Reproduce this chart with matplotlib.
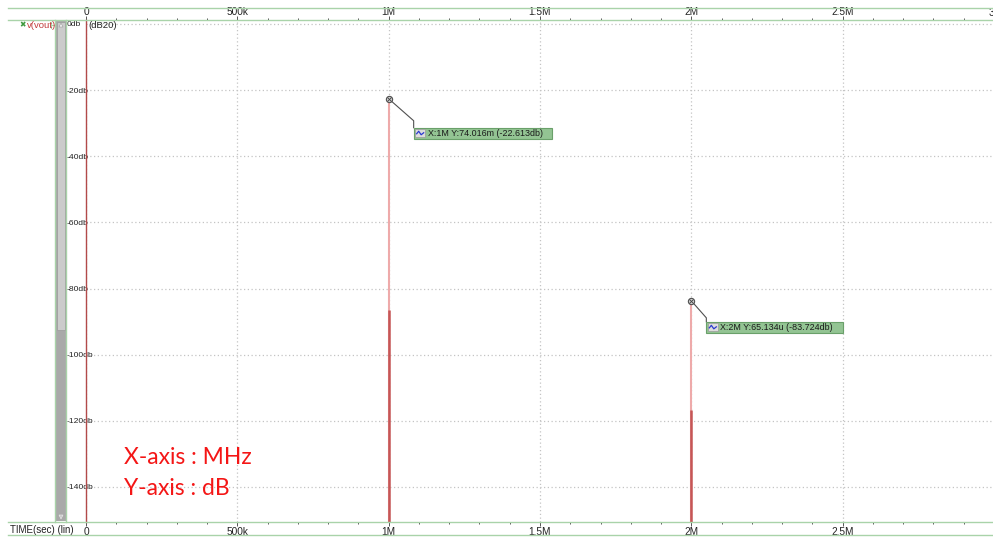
import matplotlib
matplotlib.use('Agg')
import matplotlib.pyplot as plt
from matplotlib import transforms
from matplotlib.lines import Line2D
from matplotlib.patches import Rectangle, Polygon
from matplotlib.ticker import MultipleLocator

plt.rcParams['font.family'] = ['Liberation Sans Narrow', 'Liberation Sans', 'DejaVu Sans']

# axis data
freq_ticks = [0, 0.5e6, 1e6, 1.5e6, 2e6, 2.5e6, 3e6]
top_labels = ['0', '500k', '1M', '1.5M', '2M', '2.5M', '']
bottom_labels = ['0', '500k', '1M', '1.5M', '2M', '2.5M', '']
db_ticks = [0, -20, -40, -60, -80, -100, -120, -140]
db_labels = ['0db', '-20db', '-40db', '-60db', '-80db', '-100db', '-120db', '-140db']

# spectrum peaks of v(vout)
peak_freq = [1e6, 2e6]
peak_db = [-22.613, -83.724]
peak_lin = ['74.016m', '65.134u']
peak_name = ['1M', '2M']
dense_top_db = [-86.4, -116.7]   # where the darker (dense) part of the spike starts

y_min, y_max = -150.6, 1.2
W, H = 993, 537

green = '#a9d3a9'
tick_col = '#555555'
lab_col = '#222222'
fig = plt.figure(figsize=(W / 100, H / 100), dpi=100)
fig_px = transforms.Affine2D().scale(1, -1).translate(0, H)   # pixel coords, y down

ax = fig.add_axes([86 / W, 1 - 522 / H, (994 - 86) / W, (522 - 20) / H])
ax.set_xlim(0, 3e6)
ax.set_ylim(y_min, y_max)
for s in ax.spines.values():
    s.set_visible(False)

# bottom axis
ax.set_xticks(freq_ticks, labels=bottom_labels)
ax.xaxis.set_minor_locator(MultipleLocator(1e5))
ax.tick_params(axis='x', which='major', length=3, width=0.7, color=tick_col,
               pad=0.3, labelsize=7.3, labelcolor=lab_col)
ax.tick_params(axis='x', which='minor', length=1.5, width=0.7, color=tick_col)

# top axis
top = ax.secondary_xaxis('top')
top.set_xticks(freq_ticks, labels=top_labels)
top.xaxis.set_minor_locator(MultipleLocator(1e5))
top.spines['top'].set_visible(False)
top.tick_params(axis='x', which='major', length=3, width=0.7, color=tick_col,
                pad=-1, labelsize=7.3, labelcolor=lab_col)
top.tick_params(axis='x', which='minor', length=1.5, width=0.7, color=tick_col)
ax.annotate('3', xy=(3e6, 1.0), xycoords=ax.get_xaxis_transform(), xytext=(0, 1.5),
            textcoords='offset points', ha='right', va='bottom', fontsize=7.3,
            color=lab_col, annotation_clip=False)

# y axis labels, left aligned inside the label strip
ax.set_yticks(db_ticks, labels=db_labels)
ax.tick_params(axis='y', length=0, pad=13.7, labelsize=6.1, labelcolor=lab_col)
plt.setp(ax.get_yticklabels(), ha='left')

ax.grid(True, which='major', color='#c4c4c4', linestyle=(0, (1, 2)), lw=0.9)
ax.set_axisbelow(True)

# traces
ax.axvline(0, color='#b24a4a', lw=1.0, clip_on=False, zorder=3)
ax.vlines(peak_freq, y_min, peak_db, color='#eeaaaa', lw=1.5, zorder=3)
ax.vlines(peak_freq, y_min, dense_top_db, color='#c65656', lw=1.8, zorder=3)
ax.plot(peak_freq, peak_db, 'o', ms=4.5, mfc='#d0d0d0', mec='#505050', mew=0.8,
        zorder=5, clip_on=False)
ax.plot(peak_freq, peak_db, 'x', ms=2.5, mec='#404040', mew=0.6, zorder=6)


def px_from(x, y):
    return transforms.Affine2D().scale(1, -1) + transforms.ScaledTranslation(x, y, ax.transData)


# marker boxes: corner of connector, box top, box width
box_geom = [(25, 22, 29, 138), (15, 17, 21, 137)]
for f, d, lin, name, (dx, dy, bt, bw) in zip(peak_freq, peak_db, peak_lin, peak_name, box_geom):
    t = px_from(f, d)
    ax.plot([0, dx, dx], [0, dy, bt], color='#505050', lw=0.8, transform=t,
            clip_on=False, zorder=4)
    ax.add_patch(Rectangle((dx, bt), bw, 11, transform=t, fc='#93c493', ec='#6aa06a',
                           lw=0.8, clip_on=False, zorder=6))
    ax.add_patch(Rectangle((dx + 1.5, bt + 1.5), 10, 8, transform=t, fc='#dcdcdc',
                           ec='#9a9a9a', lw=0.5, clip_on=False, zorder=7))
    ax.plot([dx + 3, dx + 5, dx + 7.5, dx + 10], [bt + 6, bt + 3.5, bt + 7, bt + 5],
            color='#2a3ad0', lw=0.9, transform=t, clip_on=False, zorder=8)
    ax.text(dx + 14, bt + 5.8, f'X:{name} Y:{lin} ({d:.3f}db)', transform=t,
            ha='left', va='center', fontsize=6.4, color='#1a1a1a', zorder=8)

# frame lines
for y in [8, 20, 522, 535]:
    fig.add_artist(Line2D([8, 993], [y, y], color=green, lw=1.0, transform=fig_px))
for x in [55, 66]:
    fig.add_artist(Line2D([x, x], [20, 522], color=green, lw=1.0, transform=fig_px))

# scrollbar
fig.add_artist(Rectangle((56, 21), 10, 500, fc='#a9a9a9', ec='none', transform=fig_px))
fig.add_artist(Rectangle((57, 22), 8, 308, fc='#cbcbcb', ec='#9a9a9a', lw=0.5,
                         transform=fig_px))
fig.add_artist(Polygon([[59, 27], [63, 27], [61, 23]], closed=True, fc='#f2f2f2',
                       ec='#9a9a9a', lw=0.4, transform=fig_px))
fig.add_artist(Polygon([[59, 515], [63, 515], [61, 519]], closed=True, fc='#c8c8c8',
                       ec='#eeeeee', lw=0.4, transform=fig_px))

# legend entry
fig.text(19.5, 25, '\u2716', transform=fig_px, fontsize=5.5, color='#3f9a3f',
         va='center', ha='left', family='DejaVu Sans')
fig.text(27, 25, 'v(vout)', transform=fig_px, fontsize=6.8, color='#c23a3a',
         va='center', ha='left')
fig.add_artist(Line2D([51, 54], [25, 25], color=green, lw=0.8, transform=fig_px))
fig.add_artist(Line2D([51, 51], [22, 28], color=green, lw=0.8, transform=fig_px))

fig.text(88, 25, '(dB20)', transform=fig_px, fontsize=6.8, color=lab_col,
         va='center', ha='left')
fig.text(10, 530, 'TIME(sec) (lin)', transform=fig_px, fontsize=7, color=lab_col,
         va='center', ha='left')

# annotation
fig.text(124, 464, 'X-axis : MHz', transform=fig_px, fontsize=16.5, color='#f41616',
         va='baseline', ha='left', family=['Lato', 'DejaVu Sans'])
fig.text(124, 495, 'Y-axis : dB', transform=fig_px, fontsize=16.5, color='#f41616',
         va='baseline', ha='left', family=['Lato', 'DejaVu Sans'])

fig.savefig('out.png', dpi=100)
